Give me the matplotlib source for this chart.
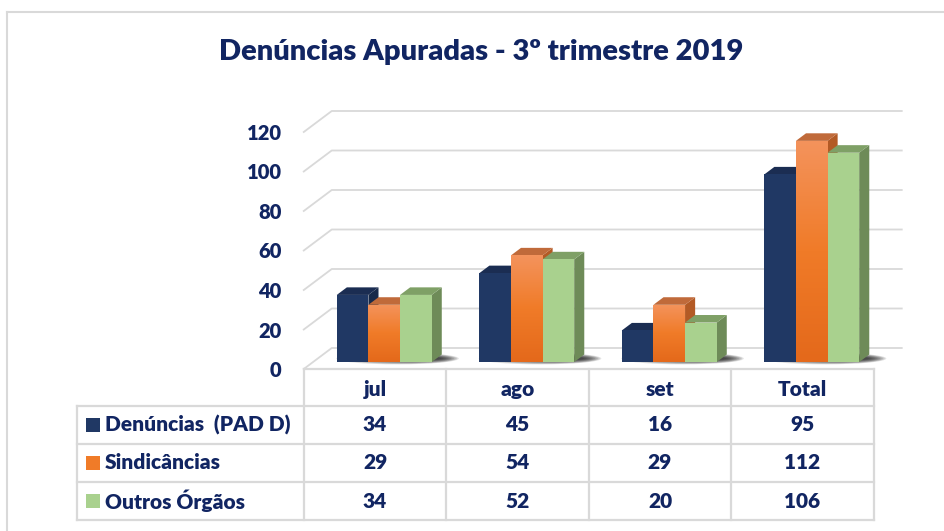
import numpy as np
import matplotlib.pyplot as plt
from matplotlib.patches import Polygon, Ellipse, Rectangle
from matplotlib.colors import LinearSegmentedColormap
import matplotlib.lines as mlines

# data
categories = ["jul", "ago", "set", "Total"]
series_names = ["Denúncias  (PAD D)", "Sindicâncias", "Outros Órgãos"]
denuncias = [34, 45, 16, 95]
sindicancias = [29, 54, 29, 112]
outros = [34, 52, 20, 106]
yticks = [0, 20, 40, 60, 80, 100, 120]

TXT = "#112562"
GRID = "#d9d9d9"
# front, top, side colours per series (orange front is a gradient)
front_c = ["#203864", None, "#a9d18e"]
top_c = ["#1b2d52", "#c06a3a", "#7fa066"]
side_c = ["#182a4a", "#b35a25", "#6e8b58"]
legend_cols = ["#203864", "#f07b28", "#a9d18e"]

plt.rcParams["font.family"] = ["Lato", "DejaVu Sans"]
plt.rcParams["font.weight"] = "heavy"
FW = "heavy"

W, H = 944, 531
fig = plt.figure(figsize=(W / 100, H / 100), dpi=100)
fig.patch.set_facecolor("white")

# axes = front plane of the 3d box
px_per_cat = 142.5
px_per_val = 1.975
x_left = 375 - 0.5 * px_per_cat
y_front0 = 369
ymax = 130
ax = fig.add_axes([x_left / W, (H - y_front0) / H,
                   4 * px_per_cat / W, ymax * px_per_val / H])
ax.patch.set_alpha(0)
for s in ax.spines.values():
    s.set_visible(False)
ax.set_xticks([])
ax.set_yticks(yticks)
ax.tick_params(axis="y", length=0, pad=16, labelsize=14.5, labelcolor=TXT)
for lab in ax.get_yticklabels():
    lab.set_fontweight(FW)

# depth offsets (category units / value units)
DX = 28 / px_per_cat
DY = 21 / px_per_val


def P(x, y, d):
    return (x + d * DX, y + d * DY)


# back wall gridlines and left wall diagonals
for v in yticks:
    pts = [P(-0.5, v, 0), P(-0.5, v, 1), P(3.5, v, 1)]
    ax.add_line(mlines.Line2D([p[0] for p in pts], [p[1] for p in pts],
                              color=GRID, lw=1.3, clip_on=False, zorder=1))

values = [denuncias, sindicancias, outros]
bw = 0.222
d0, d1 = 0.33, 0.69

orange_grad = np.linspace(0, 1, 100).reshape(-1, 1)
ocmap = LinearSegmentedColormap.from_list("o", ["#e4691b", "#f07b28", "#f4935c"])

for i, cat in enumerate(categories):
    # soft shadow on the floor, darker towards the right
    for k in range(12):
        e = Ellipse(P(i + 0.06 + k * 0.014, 0, 0.5), 0.86 - k * 0.05,
                    6.0 - k * 0.4, facecolor="#111111", edgecolor="none",
                    alpha=0.11, clip_on=False, zorder=2)
        ax.add_patch(e)
    for s in range(3):
        v = values[s][i]
        x0 = i - 1.5 * bw + s * bw
        x1 = x0 + bw
        z = 3 + s
        side = Polygon([P(x1, 0, d0), P(x1, 0, d1), P(x1, v, d1), P(x1, v, d0)],
                       closed=True, facecolor=side_c[s], edgecolor="none",
                       clip_on=False, zorder=z)
        top = Polygon([P(x0, v, d0), P(x1, v, d0), P(x1, v, d1), P(x0, v, d1)],
                      closed=True, facecolor=top_c[s], edgecolor="none",
                      clip_on=False, zorder=z)
        ax.add_patch(side)
        ax.add_patch(top)
        fx0, fy0 = P(x0, 0, d0)
        fx1, fy1 = P(x1, v, d0)
        if front_c[s] is None:
            rect = Rectangle((fx0, fy0), fx1 - fx0, fy1 - fy0, facecolor="none",
                             edgecolor="none", clip_on=False, zorder=z)
            ax.add_patch(rect)
            im = ax.imshow(orange_grad, cmap=ocmap, aspect="auto", origin="lower",
                           extent=(fx0, fx1, fy0, fy1), zorder=z)
            im.set_clip_path(rect)
        else:
            ax.add_patch(Rectangle((fx0, fy0), fx1 - fx0, fy1 - fy0,
                                   facecolor=front_c[s], edgecolor="none",
                                   clip_on=False, zorder=z))
ax.set_xlim(-0.5, 3.5)
ax.set_ylim(0, ymax)

# data table under the chart
row_h = 19.3
hdr_bot = -18.6
legend_left = (77 - 375) / px_per_cat
row_lines = [hdr_bot - k * row_h for k in range(4)]
tbl_bot = row_lines[-1]
lk = dict(color=GRID, lw=1.6, clip_on=False, zorder=1)
ax.add_line(mlines.Line2D([-0.5, 3.5], [0, 0], **lk))
for yl in row_lines:
    ax.add_line(mlines.Line2D([legend_left, 3.5], [yl, yl], **lk))
for xv in [-0.5, 0.5, 1.5, 2.5, 3.5]:
    ax.add_line(mlines.Line2D([xv, xv], [0, tbl_bot], **lk))
ax.add_line(mlines.Line2D([legend_left, legend_left], [hdr_bot, tbl_bot], **lk))

tk = dict(color=TXT, fontsize=15, fontweight=FW, ha="center",
          va="center", clip_on=False)
for i, cat in enumerate(categories):
    ax.text(i, hdr_bot / 2 - 1, cat, **tk)
sq_w = 14 / px_per_cat
sq_h = 14 / px_per_val
for s, name in enumerate(series_names):
    yc = hdr_bot - (s + 0.5) * row_h
    sx = (86 - 375) / px_per_cat
    ax.add_patch(Rectangle((sx, yc - sq_h / 2), sq_w, sq_h,
                           facecolor=legend_cols[s], edgecolor="none",
                           clip_on=False))
    ax.text((105 - 375) / px_per_cat, yc, name, color=TXT, fontsize=15,
            fontweight=FW, ha="left", va="center", clip_on=False)
    for i in range(len(categories)):
        ax.text(i, yc, str(values[s][i]), **tk)

# title
fig.text(481 / W, 1 - 52 / H, "Denúncias Apuradas - 3º trimestre 2019",
         color=TXT, fontsize=21, fontweight=FW, ha="center", va="center")

# outer chart frame (left and top)
fig.add_artist(mlines.Line2D([7 / W, 7 / W], [0, 1 - 12 / H],
                             transform=fig.transFigure, color=GRID, lw=1.5))
fig.add_artist(mlines.Line2D([7 / W, 1], [1 - 12 / H, 1 - 12 / H],
                             transform=fig.transFigure, color=GRID, lw=1.5))

fig.savefig("out.png", dpi=100, facecolor="white")
